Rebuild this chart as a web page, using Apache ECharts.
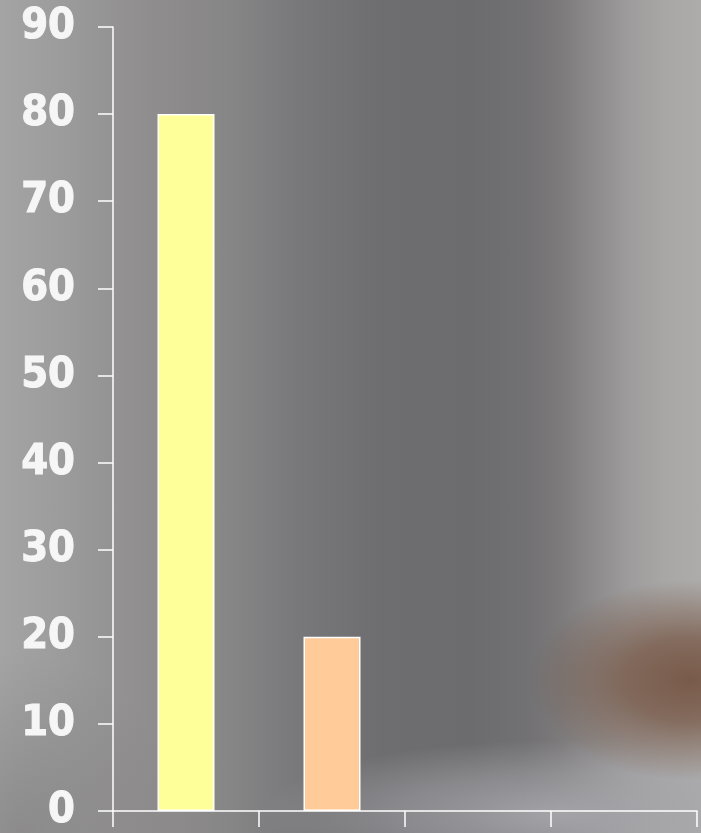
<!DOCTYPE html>
<html>
<head>
<meta charset="utf-8">
<script src="https://cdn.jsdelivr.net/npm/echarts@6/dist/echarts.min.js"></script>
<style>
html,body{margin:0;padding:0;}
#bg{position:absolute;left:0;top:0;width:701px;height:833px;
background:
 radial-gradient(ellipse 160px 100px at 690px 680px, rgba(118,86,68,0.95) 0%, rgba(118,86,68,0.75) 40%, rgba(118,86,68,0) 100%),
 radial-gradient(ellipse 300px 75px at 560px 815px, rgba(165,165,170,0.95) 0%, rgba(165,165,170,0.5) 55%, rgba(165,165,170,0) 100%),
 radial-gradient(ellipse 160px 180px at 20px 833px, rgba(115,112,112,0.45) 0%, rgba(115,112,112,0) 100%),
 linear-gradient(to right, #a4a4a4 0px, #9c9c9c 60px, #8f8d8e 150px, #878687 230px, #787779 300px, #6e6d70 380px, #6c6b6d 470px, #717072 525px, #7c7a7b 560px, #8d8b8b 595px, #9e9c9c 630px, #a8a7a6 665px, #adacab 701px);}
#chart{position:absolute;left:0;top:0;width:701px;height:833px;}
</style>
</head>
<body>
<div id="bg"></div>
<div id="chart"></div>
<script>
const categories = ['', '', '', ''];
const values = [80, 20, 0, 0];
const barColors = ['#FFFF99', '#FFCC99', '#FFFF99', '#FFCC99'];
const yTicks = [0, 10, 20, 30, 40, 50, 60, 70, 80, 90];

const chart = echarts.init(document.getElementById('chart'), null, {renderer: 'canvas'});
chart.setOption({
  backgroundColor: 'transparent',
  animation: false,
  grid: {left: 113, top: 27, right: 4, bottom: 20, containLabel: false},
  xAxis: {
    type: 'category',
    data: categories,
    boundaryGap: true,
    axisLine: {show: true, lineStyle: {color: '#ffffff', width: 1.5}},
    axisTick: {show: true, length: 16, lineStyle: {color: '#ffffff', width: 1.5}},
    axisLabel: {show: false},
    splitLine: {show: false}
  },
  yAxis: {
    type: 'value',
    min: yTicks[0],
    max: yTicks[yTicks.length - 1],
    interval: 10,
    axisLine: {show: true, lineStyle: {color: '#ffffff', width: 1.5}},
    axisTick: {show: true, inside: false, length: 15, lineStyle: {color: '#ffffff', width: 1.5}},
    axisLabel: {
      margin: 38,
      color: '#f6f6f6',
      fontFamily: '"DejaVu Sans Condensed"',
      fontWeight: 'bold',
      fontSize: 43,
      textBorderColor: '#f6f6f6',
      textBorderWidth: 1
    },
    splitLine: {show: false}
  },
  series: [{
    type: 'bar',
    barWidth: 57,
    data: values.map((v, i) => ({
      value: v,
      itemStyle: {color: barColors[i], borderColor: '#ffffff', borderWidth: v > 0 ? 1.5 : 0}
    }))
  }]
});
</script>
</body>
</html>
